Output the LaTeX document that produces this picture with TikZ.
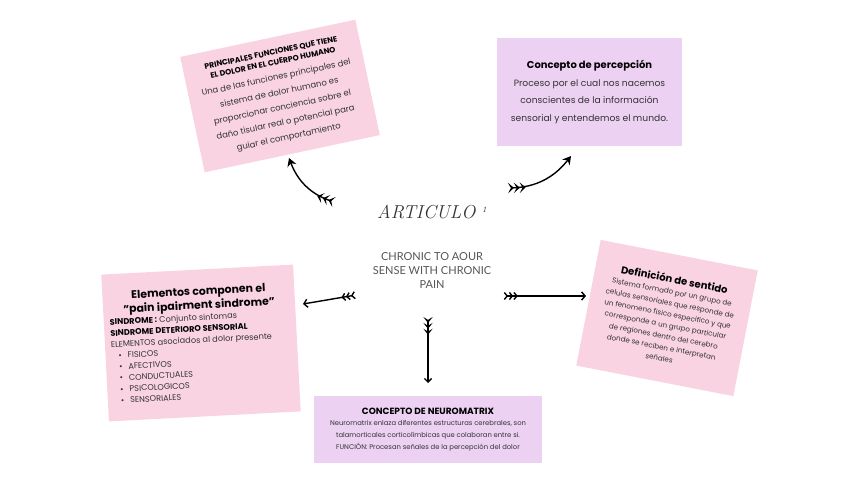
\documentclass[tikz,border=0pt]{standalone}
\usepackage{fontspec}
\setmainfont{Poppins}
\newfontfamily\ligera{Lato}
\usepackage{tikz}
\usetikzlibrary{arrows.meta, positioning}

\definecolor{rosa}{HTML}{F9D3E2}
\definecolor{lila}{HTML}{ECD1F3}
\definecolor{texto}{HTML}{333333}
\definecolor{gris}{HTML}{555555}

\begin{document}
\begin{tikzpicture}[x=0.03cm, y=-0.03cm, thick]
    \tikzset{
        caja/.style={rectangle, inner sep=0pt, text=texto},
        line/.style={draw, line width=1.2pt, line cap=round},
        plumas/.style={arrows={Stealth[reversed,length=5pt,width=9pt,inset=2.5pt,sep=0pt]Stealth[reversed,length=5pt,width=9pt,inset=2.5pt,sep=0pt]Stealth[reversed,length=5pt,width=9pt,inset=2.5pt]-Stealth[length=7pt,width=8pt]}},
        flechav/.style={arrows={Stealth[reversed,length=5pt,width=8pt,inset=2.5pt,sep=0pt]Stealth[reversed,length=5pt,width=8pt,inset=2.5pt,sep=0pt]Stealth[reversed,length=5pt,width=8pt,inset=2.5pt]-Straight Barb[length=3pt,width=6pt]}},
        abierta/.style={arrows={Straight Barb[reversed,length=2.5pt,width=6pt,sep=0.5pt]Straight Barb[reversed,length=2.5pt,width=6pt,sep=0.5pt]Straight Barb[reversed,length=2.5pt,width=6pt]-Straight Barb[length=3pt,width=7pt]}}
    }
    \useasboundingbox (0,0) rectangle (848,477);

    \node (Funciones) [caja, fill=rosa, rotate=12, minimum width=5.37cm, minimum height=3.54cm] at (280,96) {\begin{minipage}{5.2cm}\centering
        {\fontsize{6.6}{8.6}\selectfont\bfseries\color{black} PRINCIPALES FUNCIONES QUE TIENE\\EL DOLOR EN EL CUERPO HUMANO\par}
        {\fontsize{7.2}{13}\selectfont Una de las funciones principales del\\sistema de dolor humano es\\proporcionar conciencia sobre el\\daño tisular real o potencial para\\guiar el comportamiento\par}
        \end{minipage}};
    \node (Percepcion) [caja, fill=lila, minimum width=5.55cm, minimum height=3.24cm] at (589.5,92) {\begin{minipage}{5.4cm}\centering
        {\fontsize{8.5}{11}\selectfont\bfseries\color{black} Concepto de percepción\par}
        {\fontsize{7.8}{15}\selectfont Proceso por el cual nos nacemos\\conscientes de la información\\sensorial y entendemos el mundo.\par}
        \end{minipage}};
    \node (Elementos) [caja, fill=rosa, rotate=3, minimum width=5.76cm, minimum height=4.41cm] at (201,343) {\begin{minipage}{5.4cm}\centering
        {\fontsize{9.3}{12}\selectfont\bfseries\color{black} Elementos componen el\\"pain ipairment sindrome"\par}
        \raggedright\fontsize{7}{9.6}\selectfont
        {\bfseries\color{black}SINDROME :} Conjunto sintomas\\
        {\bfseries\color{black}SINDROME DETERIORO SENSORIAL}\\
        ELEMENTOS asociados al dolor presente\\
        \hspace*{6pt}\textbullet\hspace{5pt}FISICOS\\
        \hspace*{6pt}\textbullet\hspace{5pt}AFECTIVOS\\
        \hspace*{6pt}\textbullet\hspace{5pt}CONDUCTUALES\\
        \hspace*{6pt}\textbullet\hspace{5pt}PSICOLOGICOS\\
        \hspace*{6pt}\textbullet\hspace{5pt}SENSORIALES\par
        \end{minipage}};
    \node (Sentido) [caja, fill=rosa, rotate=-11, minimum width=4.8cm, minimum height=3.84cm] at (667,318) {\begin{minipage}{4.7cm}\centering
        {\fontsize{8.6}{11}\selectfont\bfseries\color{black} Definición de sentido\par}
        {\fontsize{6.1}{9.6}\selectfont Sistema formado por un grupo de\\celulas sensoriales que responde de\\un fenomeno fisico especifico y que\\corresponde a un grupo particular\\de regiones dentro del cerebro\\donde se reciben e interpretan\\señales\par}
        \end{minipage}};
    \node (Neuromatrix) [caja, fill=lila, minimum width=6.84cm, minimum height=2.01cm] at (428,429.5) {\begin{minipage}{6.7cm}\centering
        {\fontsize{7.7}{10}\selectfont\bfseries\color{black} CONCEPTO DE NEUROMATRIX\par}
        {\fontsize{5.8}{10}\selectfont Neuromatrix enlaza diferentes estructuras cerebrales, son\\talamorticales corticolímbicas que colaboran entre si.\\FUNCIÓN: Procesan señales de la percepción del dolor\par}
        \end{minipage}};

    \node (Articulo) [font={\fontspec{Latin Modern Roman}\itshape\fontsize{16}{16}\selectfont}, text=black!80] at (432,212) {ARTICULO \raisebox{5pt}{\fontsize{7}{7}\selectfont 1}};
    \node (Chronic) [below=0.75cm of Articulo, align=center, text=gris, font={\ligera\fontsize{9.4}{12}\selectfont}] {CHRONIC TO AOUR\\SENSE WITH CHRONIC\\PAIN};

    \coordinate (c1) at (334,202);
    \coordinate (p1) at (289,158);
    \coordinate (c2) at (508,188);
    \coordinate (p2) at (571,156);
    \coordinate (c3) at (356,295);
    \coordinate (p3) at (303,304);
    \coordinate (c4) at (503,296);
    \coordinate (p4) at (586,296);
    \coordinate (c5) at (428,317);
    \coordinate (p5) at (428,383);

    \path [line, plumas] (c1) to[bend left=25] (p1);
    \path [line, plumas] (c2) to[bend right=25] (p2);
    \path [line, abierta] (c3) -- (p3);
    \path [line, abierta] (c4) -- (p4);
    \path [line, flechav] (c5) -- (p5);

\end{tikzpicture}
\end{document}
